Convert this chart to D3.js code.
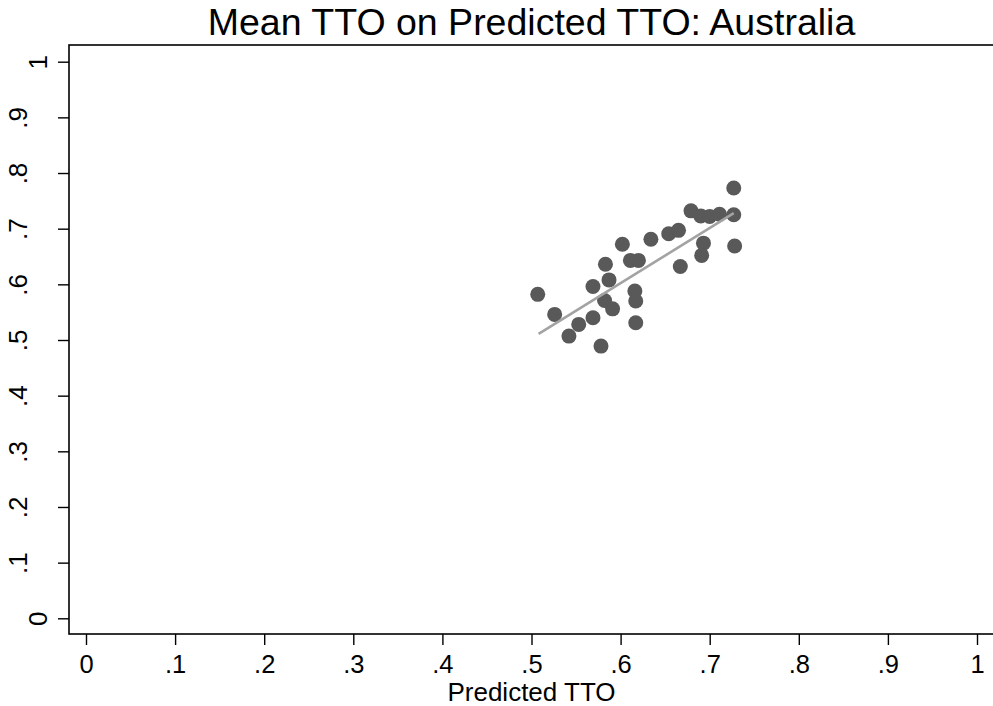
<!DOCTYPE html>
<html>
<head>
<meta charset="utf-8">
<script src="https://cdn.jsdelivr.net/npm/d3@7"></script>
<style>
  body { margin: 0; background: #fff; }
  svg { display: block; font-family: "Liberation Sans", Arial, sans-serif; }
</style>
</head>
<body>
<div id="graphe"></div>
<script>
// donnees (Predicted TTO, Mean TTO)
var predTTO = [0.507, 0.526, 0.542, 0.553, 0.569, 0.569, 0.578, 0.582, 0.583, 0.587,
               0.591, 0.602, 0.611, 0.620, 0.616, 0.617, 0.617, 0.634, 0.654, 0.665,
               0.667, 0.679, 0.690, 0.700, 0.711, 0.727, 0.727, 0.693, 0.691, 0.728];
var meanTTO = [0.582, 0.546, 0.507, 0.528, 0.596, 0.540, 0.489, 0.571, 0.636, 0.608,
               0.556, 0.672, 0.643, 0.643, 0.588, 0.570, 0.531, 0.681, 0.691, 0.697,
               0.632, 0.732, 0.723, 0.722, 0.726, 0.725, 0.773, 0.674, 0.652, 0.669];
// droite de regression (extremites)
var fitX = [0.508, 0.727];
var fitY = [0.511, 0.728];

var ticks = [0, 0.1, 0.2, 0.3, 0.4, 0.5, 0.6, 0.7, 0.8, 0.9, 1];
var titre = "Mean TTO on Predicted TTO: Australia";
var titreX = "Predicted TTO";

var W = 993, H = 706;
var svg = d3.select("#graphe").append("svg").attr("width", W).attr("height", H);

var x = d3.scaleLinear().domain([0, 1]).range([86, 977]);
var y = d3.scaleLinear().domain([0, 1]).range([618.3, 61.7]);

// format stata : 0 .1 .2 ... 1
function fmt(d) {
  if (d == 0) return "0";
  if (d == 1) return "1";
  return d3.format(".1f")(d).replace("0.", ".");
}

// cadre du graphique (bord droit hors image)
svg.append("rect")
  .attr("x", 69).attr("y", 45)
  .attr("width", 940).attr("height", 589)
  .attr("fill", "none")
  .attr("stroke", "#000")
  .attr("stroke-width", 1.6);

// axe x
var gx = svg.append("g").attr("transform", "translate(0,634)")
  .call(d3.axisBottom(x).tickValues(ticks).tickFormat(fmt).tickSize(11).tickSizeOuter(0));
gx.select(".domain").remove();
gx.selectAll(".tick line").attr("stroke", "#000").attr("stroke-width", 1.4);
gx.selectAll(".tick text")
  .attr("y", 0).attr("dy", 0)
  .attr("transform", "translate(0,39)")
  .attr("font-size", 25.5).attr("fill", "#000");

// axe y
var gy = svg.append("g").attr("transform", "translate(69,0)")
  .call(d3.axisLeft(y).tickValues(ticks).tickFormat(fmt).tickSize(11).tickSizeOuter(0));
gy.select(".domain").remove();
gy.selectAll(".tick line").attr("stroke", "#000").attr("stroke-width", 1.4);
gy.selectAll(".tick text")
  .attr("x", 0).attr("dy", 0)
  .attr("text-anchor", "middle")
  .attr("transform", function(d) {
     // les labels avec un point sont decales a gauche (comme sur l'original)
     var bx = (d == 0 || d == 1) ? -22 : -42;
     return "translate(" + bx + ",0) rotate(-90)";
  })
  .attr("font-size", 26).attr("fill", "#000");

// points
svg.append("g").selectAll("circle")
  .data(d3.range(predTTO.length))
  .enter().append("circle")
  .attr("cx", function(i) { return x(predTTO[i]); })
  .attr("cy", function(i) { return y(meanTTO[i]); })
  .attr("r", 7.5)
  .attr("fill", "#595959");

// droite ajustee
svg.append("line")
  .attr("x1", x(fitX[0])).attr("y1", y(fitY[0]))
  .attr("x2", x(fitX[1])).attr("y2", y(fitY[1]))
  .attr("stroke", "#a3a3a3")
  .attr("stroke-width", 2.6);

// titres
svg.append("text")
  .attr("x", 531.5).attr("y", 35)
  .attr("text-anchor", "middle")
  .attr("font-size", 37.5)
  .text(titre);

svg.append("text")
  .attr("x", 531.5).attr("y", 701)
  .attr("text-anchor", "middle")
  .attr("font-size", 26)
  .text(titreX);
</script>
</body>
</html>
